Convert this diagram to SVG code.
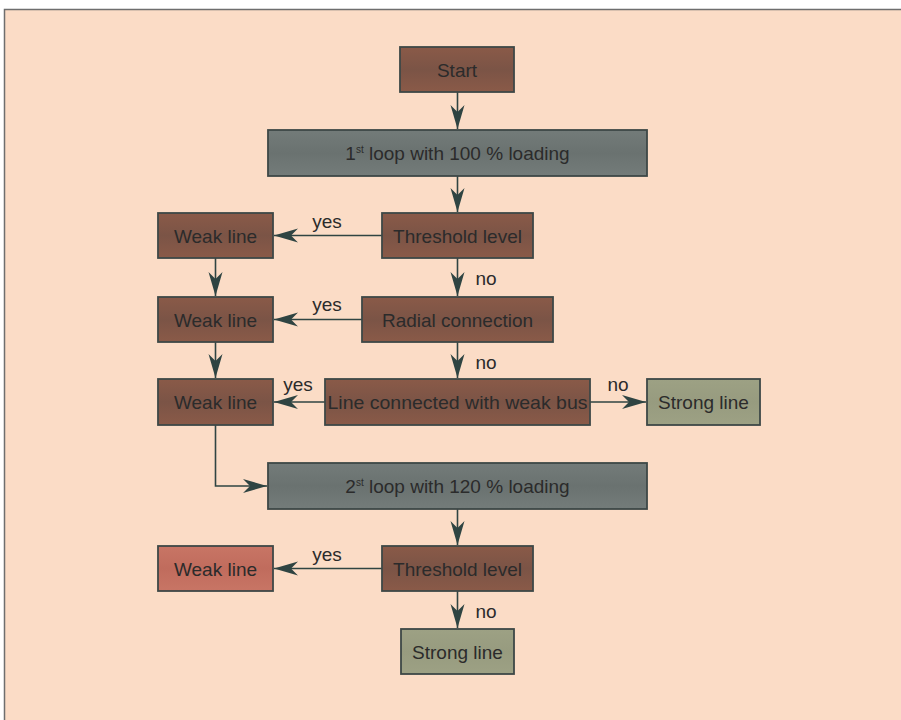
<svg xmlns="http://www.w3.org/2000/svg" width="901" height="720" viewBox="0 0 901 720">
<style>
.node rect{stroke:#3d4846;stroke-width:1.8}
.brown{fill:url(#gBrown)}
.gray{fill:url(#gGray)}
.olive{fill:url(#gOlive)}
.pink{fill:url(#gPink)}
text{font-family:"Liberation Sans",Arial,Helvetica,sans-serif;fill:#2b2b2b}
.t{font-size:19px;text-anchor:middle}
.sup{font-size:10px}
.lbl{font-size:19px;text-anchor:middle}
.conn path,.conn line{stroke:#2f4442;stroke-width:1.6;fill:none;marker-end:url(#arr)}
</style>
<defs>
<marker id="arr" markerUnits="userSpaceOnUse" markerWidth="26" markerHeight="16" viewBox="-25 -8 26 16" refX="0" refY="0" orient="auto">
<path d="M0,0 L-24,-7 L-17,0 L-24,7 Z" fill="#2f4442"/>
</marker>
<linearGradient id="gBrown" x1="0" y1="0" x2="0" y2="1">
<stop offset="0" stop-color="#8a5a48"/><stop offset="0.5" stop-color="#7b5446"/><stop offset="1" stop-color="#8a5a48"/>
</linearGradient>
<linearGradient id="gGray" x1="0" y1="0" x2="0" y2="1">
<stop offset="0" stop-color="#737b79"/><stop offset="0.5" stop-color="#6a7270"/><stop offset="1" stop-color="#747c7a"/>
</linearGradient>
<linearGradient id="gOlive" x1="0" y1="0" x2="0" y2="1">
<stop offset="0" stop-color="#9da184"/><stop offset="0.5" stop-color="#979b7f"/><stop offset="1" stop-color="#9da184"/>
</linearGradient>
<linearGradient id="gPink" x1="0" y1="0" x2="0" y2="1">
<stop offset="0" stop-color="#c87565"/><stop offset="0.5" stop-color="#c06c5d"/><stop offset="1" stop-color="#c87565"/>
</linearGradient>
</defs>
<rect x="0" y="0" width="901" height="720" fill="#ffffff"/>
<rect x="4.5" y="9.5" width="910" height="730" fill="#fbdcc6" stroke="#6e6e6e" stroke-width="1.5"/>

<g id="connectors" class="conn">
<line x1="457.5" y1="92" x2="457.5" y2="129"/>
<line x1="457.5" y1="176" x2="457.5" y2="212"/>
<line x1="382" y1="235.5" x2="274" y2="235.5"/>
<line x1="457.5" y1="258" x2="457.5" y2="296"/>
<line x1="215.5" y1="258" x2="215.5" y2="296"/>
<line x1="362" y1="319.5" x2="274" y2="319.5"/>
<line x1="457.5" y1="342" x2="457.5" y2="378"/>
<line x1="215.5" y1="342" x2="215.5" y2="378"/>
<line x1="325" y1="402" x2="274" y2="402"/>
<line x1="590" y1="402" x2="646" y2="402"/>
<path d="M215.5,425 V486 H267"/>
<line x1="457.5" y1="509" x2="457.5" y2="545"/>
<line x1="382" y1="568.5" x2="274" y2="568.5"/>
<line x1="457.5" y1="591" x2="457.5" y2="628"/>
</g>

<g id="labels">
<text class="lbl" x="327" y="228">yes</text>
<text class="lbl" x="486" y="285">no</text>
<text class="lbl" x="327" y="311">yes</text>
<text class="lbl" x="486" y="369">no</text>
<text class="lbl" x="298" y="391">yes</text>
<text class="lbl" x="618" y="391">no</text>
<text class="lbl" x="327" y="561">yes</text>
<text class="lbl" x="486" y="618">no</text>
</g>

<g id="start" class="node"><rect class="brown" x="400" y="47" width="114" height="45"/><text class="t" x="457" y="76.5">Start</text></g>
<g id="loop1" class="node"><rect class="gray" x="268" y="130" width="379" height="46"/><text class="t" x="457.5" y="160">1<tspan class="sup" dy="-7">st</tspan><tspan dy="7"> loop with 100 % loading</tspan></text></g>
<g id="weak1" class="node"><rect class="brown" x="158" y="213" width="115" height="45"/><text class="t" x="215.5" y="242.5">Weak line</text></g>
<g id="threshold1" class="node"><rect class="brown" x="382" y="213" width="151" height="45"/><text class="t" x="457.5" y="242.5">Threshold level</text></g>
<g id="weak2" class="node"><rect class="brown" x="158" y="297" width="115" height="45"/><text class="t" x="215.5" y="326.5">Weak line</text></g>
<g id="radial" class="node"><rect class="brown" x="362" y="297" width="191" height="45"/><text class="t" x="457.5" y="326.5">Radial connection</text></g>
<g id="weak3" class="node"><rect class="brown" x="158" y="379" width="115" height="46"/><text class="t" x="215.5" y="409">Weak line</text></g>
<g id="weakbus" class="node"><rect class="brown" x="325" y="379" width="265" height="46"/><text class="t" x="457.5" y="409" textLength="260" lengthAdjust="spacingAndGlyphs">Line connected with weak bus</text></g>
<g id="strong1" class="node"><rect class="olive" x="647" y="379" width="113" height="46"/><text class="t" x="703.5" y="409">Strong line</text></g>
<g id="loop2" class="node"><rect class="gray" x="268" y="463" width="379" height="46"/><text class="t" x="457.5" y="493">2<tspan class="sup" dy="-7">st</tspan><tspan dy="7"> loop with 120 % loading</tspan></text></g>
<g id="weak4" class="node"><rect class="pink" x="158" y="546" width="115" height="45"/><text class="t" x="215.5" y="575.5">Weak line</text></g>
<g id="threshold2" class="node"><rect class="brown" x="382" y="546" width="151" height="45"/><text class="t" x="457.5" y="575.5">Threshold level</text></g>
<g id="strong2" class="node"><rect class="olive" x="401" y="629" width="113" height="45"/><text class="t" x="457.5" y="658.5">Strong line</text></g>
</svg>
